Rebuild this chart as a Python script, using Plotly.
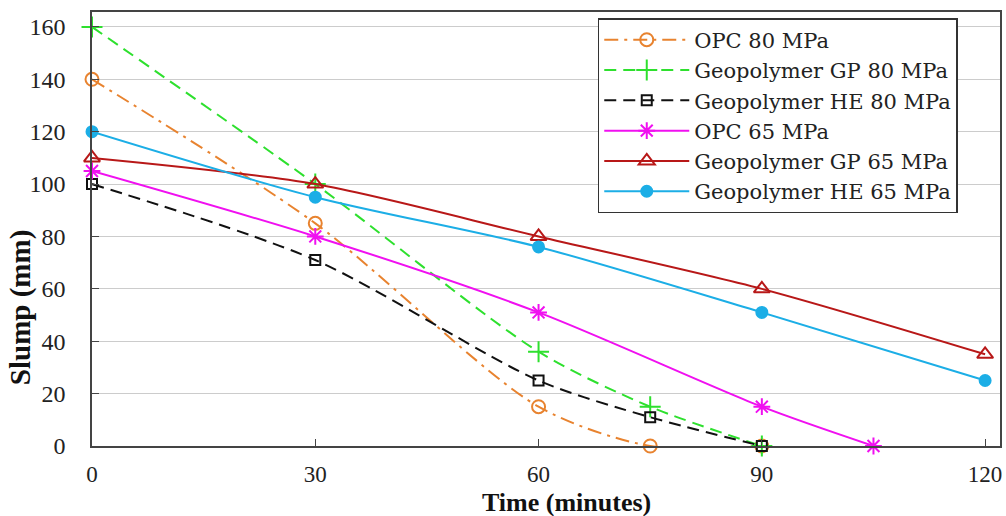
import plotly.graph_objects as go

names = ["OPC 80 MPa", "Geopolymer GP 80 MPa", "Geopolymer HE 80 MPa",
         "OPC 65 MPa", "Geopolymer GP 65 MPa", "Geopolymer HE 65 MPa"]
x_opc80 = [0, 30, 60, 75, 90]
y_opc80 = [140, 85, 15, 0, 0]
x_gp80 = [0, 30, 60, 75, 90]
y_gp80 = [160, 100, 36, 15, 0]
x_he80 = [0, 30, 60, 75, 90]
y_he80 = [100, 71, 25, 11, 0]
x_opc65 = [0, 30, 60, 90, 105]
y_opc65 = [105, 80, 51, 15, 0]
x_gp65 = [0, 30, 60, 90, 120]
y_gp65 = [110, 100, 80, 60, 35]
x_he65 = [0, 30, 60, 90, 120]
y_he65 = [120, 95, 76, 51, 25]
x_ticks = [0, 30, 60, 90, 120]
y_ticks = [0, 20, 40, 60, 80, 100, 120, 140, 160]
x_title = "Time (minutes)"
y_title = "Slump (mm)"

styles = [
    dict(color="#E8832F", dash="14px,6px,3px,6px", symbol="circle-open", size=13),
    dict(color="#2EE02E", dash="12px,7px", symbol="cross-thin-open", size=15),
    dict(color="#111111", dash="12px,7px", symbol="square-open", size=10),
    dict(color="#F010F0", dash="solid", symbol="asterisk-open", size=14),
    dict(color="#B81818", dash="solid", symbol="triangle-up-open", size=14),
    dict(color="#1CAEE6", dash="solid", symbol="circle", size=11),
]
xs = [x_opc80, x_gp80, x_he80, x_opc65, x_gp65, x_he65]
ys = [y_opc80, y_gp80, y_he80, y_opc65, y_gp65, y_he65]

fig = go.Figure()
for n, x, y, s in zip(names, xs, ys, styles):
    fig.add_trace(go.Scatter(
        x=x, y=y, name=n, mode="lines+markers",
        line=dict(color=s["color"], width=2, dash=s["dash"], shape="spline", smoothing=0.8),
        marker=dict(symbol=s["symbol"], size=s["size"], color=s["color"],
                    line=dict(color=s["color"], width=2)),
        cliponaxis=False,
    ))

fig.update_layout(
    width=1006, height=516,
    margin=dict(l=92, r=6, t=12, b=70),
    paper_bgcolor="white", plot_bgcolor="white",
    font=dict(family="Liberation Serif", size=24, color="#222"),
    xaxis=dict(range=[0, 122], tickvals=x_ticks, showgrid=False, automargin=False,
               ticks="inside", ticklen=7, tickcolor="#444",
               showline=True, linecolor="#444", linewidth=1.5, mirror=True,
               zeroline=False, ticklabelstandoff=7, tickfont=dict(size=23)),
    yaxis=dict(range=[0, 165.7], tickvals=y_ticks, showgrid=True, gridcolor="#CCCCCC",
               ticks="inside", ticklen=7, tickcolor="#444", automargin=False,
               showline=True, linecolor="#444", linewidth=1.5, mirror=True,
               zeroline=False, ticklabelstandoff=20),
    legend=dict(x=0.557, y=0.986, xanchor="left", yanchor="top",
                bgcolor="white", bordercolor="#333", borderwidth=1.5,
                font=dict(family="DejaVu Serif", size=21, color="#222"),
                itemwidth=85, tracegroupgap=0),
    annotations=[
        dict(text="<b>" + x_title + "</b>", xref="paper", yref="paper",
             x=0.523, y=-0.13, xanchor="center", yanchor="middle", showarrow=False,
             borderpad=0, font=dict(family="Liberation Serif", size=26, color="#111")),
        dict(text="<b>" + y_title + "</b>", xref="paper", yref="paper",
             x=-0.078, y=0.318, xanchor="center", yanchor="middle", showarrow=False,
             textangle=-90, font=dict(family="Liberation Serif", size=29, color="#111")),
    ],
)
fig.write_html("out.html", config={"displayModeBar": False},
               post_script="document.body.style.margin='0';document.body.style.overflow='hidden';")
